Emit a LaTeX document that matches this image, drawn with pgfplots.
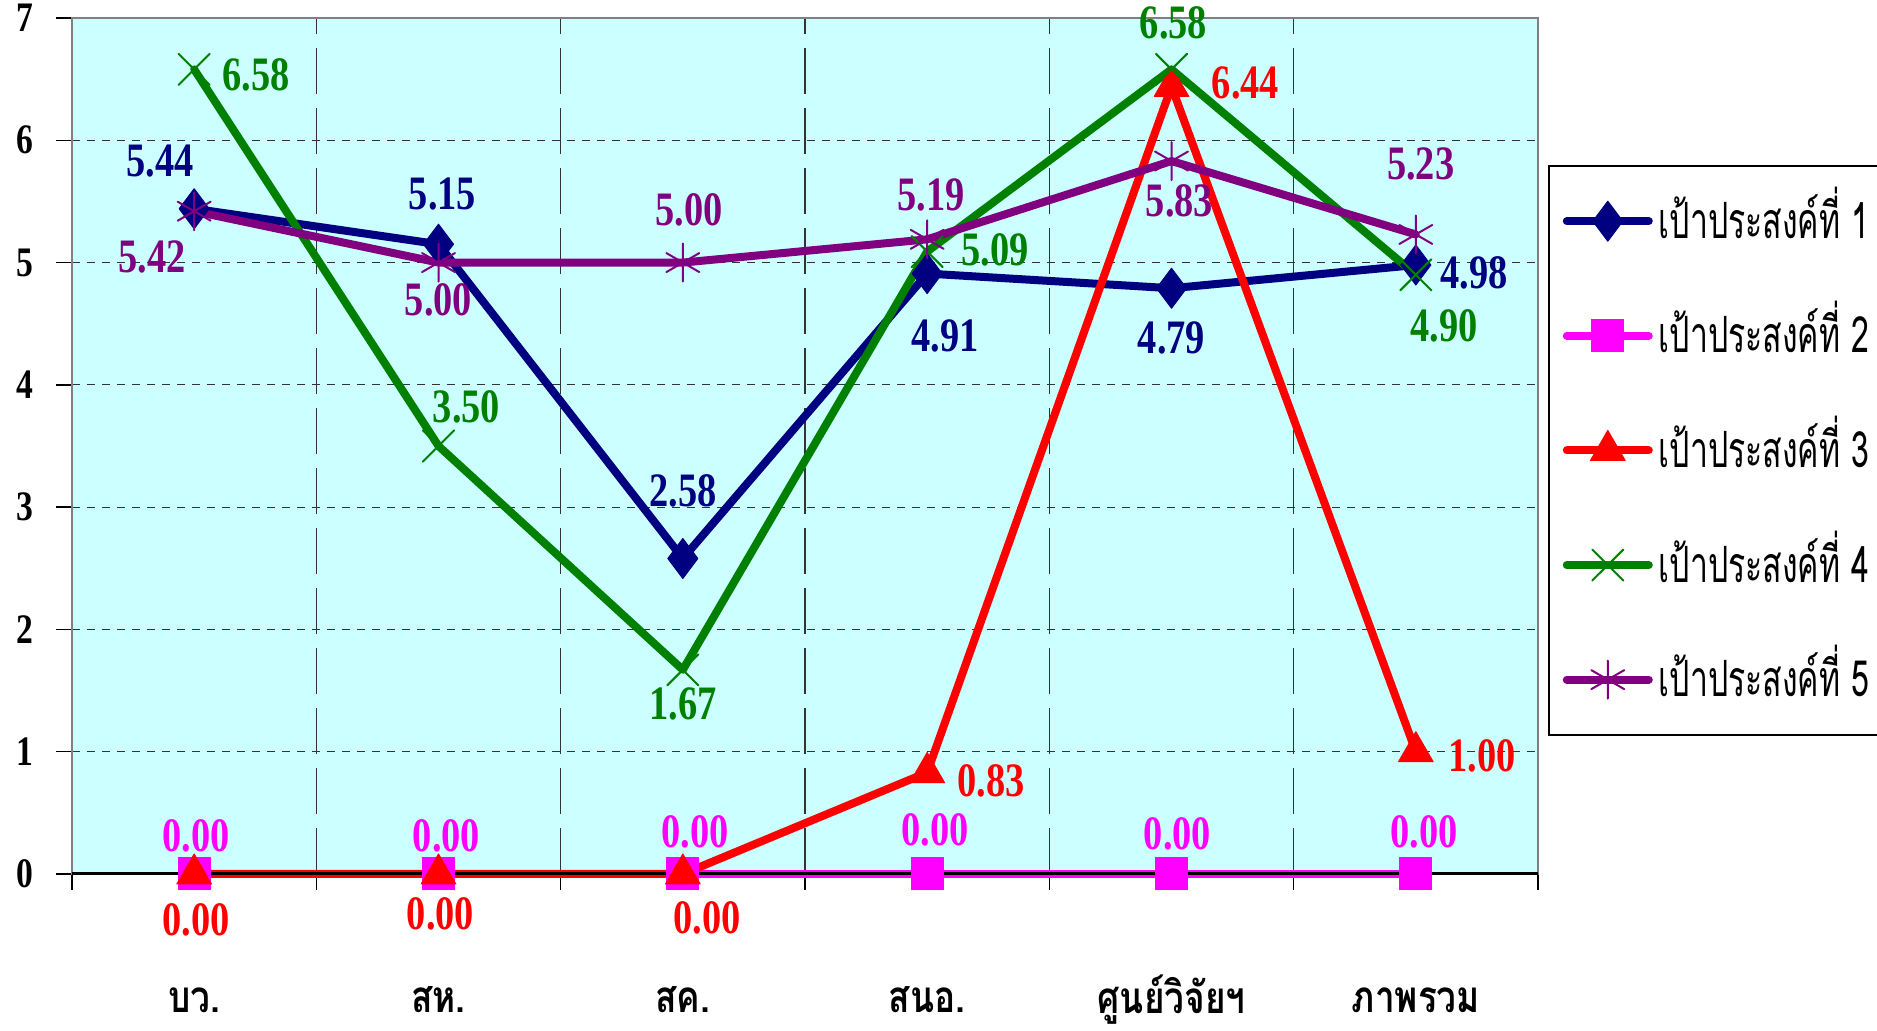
\documentclass[border=0pt]{standalone}
\usepackage{fontspec}
\usepackage{pgfplots}
\pgfplotsset{compat=1.18}
\newfontfamily\thaifont[Script=Thai,FakeStretch=0.8]{Loma}
\newfontfamily\legfont[Script=Thai,FakeStretch=0.64]{Loma}
\newfontfamily\numfont[FakeStretch=0.8]{Liberation Serif}
\definecolor{bgc}{HTML}{CCFFFF}
\definecolor{c1}{HTML}{000080}
\definecolor{c2}{HTML}{FF00FF}
\definecolor{c3}{HTML}{FF0000}
\definecolor{c4}{HTML}{008000}
\definecolor{c5}{HTML}{800080}
\newcommand{\lblfont}{\numfont\bfseries\fontsize{24}{24}\selectfont}
\newcommand{\catfont}{\thaifont\bfseries\fontsize{22}{22}\selectfont}
\newcommand{\lbl}[6]{\node[text=#1, font=\lblfont, inner sep=0pt, anchor=center] at ([shift={(#4pt,#5pt)}]axis cs:#2,#3) {#6};}
\newcommand{\cat}[2]{\node[font=\catfont, anchor=center, inner sep=0pt] at ([yshift=-63pt]axis cs:#1,0) {#2};}
\newcommand{\leg}[1]{\makebox[104pt][l]{#1}}
\begin{document}
\begin{tikzpicture}
\useasboundingbox (-36pt,-78.5pt) rectangle (902.5pt,437pt);
\begin{axis}[
  at={(0,0)}, anchor=south west,
  scale only axis, width=733pt, height=428pt,
  xmin=-0.5, xmax=5.5, ymin=0, ymax=7,
  clip=false,
  axis background/.style={fill=bgc},
  axis line style={draw=gray, line width=1.2pt},
  xtick={-0.5,0.5,1.5,2.5,3.5,4.5,5.5},
  xticklabels={,,,,,,},
  ytick={0,1,2,3,4,5,6,7},
  tick pos=left,
  /pgf/number format/assume math mode=true,
  yticklabel style={font=\numfont\bfseries\fontsize{21}{21}\selectfont, xshift=-8pt},
  tick align=outside, major tick length=8pt,
  tick style={black, line width=0.7pt},
  xmajorgrids, ymajorgrids,
  major x grid style={black!80, line width=0.6pt, dash pattern=on 23pt off 7pt},
  major y grid style={black!80, line width=0.6pt, dash pattern=on 4pt off 3.5pt},
  legend style={at={(1.0068,0.828)}, anchor=north west, draw=black, line width=0.8pt, fill=white,
    font=\legfont\fontsize{25}{25}\selectfont, row sep=22.3pt, column sep=3pt,
    inner xsep=7pt, inner ysep=10.1pt,
    nodes={inner sep=0pt, text height=26pt, text depth=9pt}},
  legend cell align=left,
  legend image code/.code={\draw[mark repeat=2,mark phase=2,#1] plot coordinates {(0pt,0pt) (20.5pt,0pt) (41pt,0pt)};},
  every axis plot/.append style={line width=4pt, line join=round, line cap=round},
]
\addplot[c1, mark=diamond*, mark size=10pt, mark options={fill=c1, line width=0.5pt}] coordinates {(0,5.44) (1,5.15) (2,2.58) (3,4.91) (4,4.79) (5,4.98)};
\addlegendentry{\leg{เป้าประสงค์ที่ 1}}
\addplot[c2, mark=square*, mark size=8pt, mark options={fill=c2, line width=0.5pt}] coordinates {(0,0) (1,0) (2,0) (3,0) (4,0) (5,0)};
\addlegendentry{\leg{เป้าประสงค์ที่ 2}}
\addplot[c3, mark=triangle*, mark size=10pt, mark options={fill=c3, line width=0.5pt}] coordinates {(0,0) (1,0) (2,0) (3,0.83) (4,6.44) (5,1.00)};
\addlegendentry{\leg{เป้าประสงค์ที่ 3}}
\addplot[c4, mark=x, mark size=11pt, mark options={line width=1pt}] coordinates {(0,6.58) (1,3.50) (2,1.67) (3,5.09) (4,6.58) (5,4.90)};
\addlegendentry{\leg{เป้าประสงค์ที่ 4}}
\addplot[c5, mark=asterisk, mark size=9.5pt, mark options={line width=1pt}] coordinates {(0,5.42) (1,5.00) (2,5.00) (3,5.19) (4,5.83) (5,5.23)};
\addlegendentry{\leg{เป้าประสงค์ที่ 5}}
\draw[black, line width=1.5pt] (axis cs:-0.5,0) -- (axis cs:5.5,0);
% labels series 1
\lbl{c1}{0}{5.44}{-17}{24}{5.44}
\lbl{c1}{1}{5.15}{2}{25}{5.15}
\lbl{c1}{2}{2.58}{0}{34}{2.58}
\lbl{c1}{3}{4.91}{9}{-31}{4.91}
\lbl{c1}{4}{4.79}{0}{-25}{4.79}
\lbl{c1}{5}{4.98}{29}{-4}{4.98}
% series 2
\lbl{c2}{0}{0}{1}{19}{0.00}
\lbl{c2}{1}{0}{4}{19}{0.00}
\lbl{c2}{2}{0}{6}{21}{0.00}
\lbl{c2}{3}{0}{4}{22}{0.00}
\lbl{c2}{4}{0}{3}{20}{0.00}
\lbl{c2}{5}{0}{4}{21}{0.00}
% series 3
\lbl{c3}{0}{0}{1}{-23}{0.00}
\lbl{c3}{1}{0}{1}{-20}{0.00}
\lbl{c3}{2}{0}{12}{-22}{0.00}
\lbl{c3}{3}{0.83}{32}{-4}{0.83}
\lbl{c3}{4}{6.44}{37}{2}{6.44}
\lbl{c3}{5}{1.00}{33}{-2}{1.00}
% series 4
\lbl{c4}{0}{6.58}{31}{-3}{6.58}
\lbl{c4}{1}{3.50}{14}{19.5}{3.50}
\lbl{c4}{2}{1.67}{0}{-17}{1.67}
\lbl{c4}{3}{5.09}{34}{1}{5.09}
\lbl{c4}{4}{6.58}{1}{23}{6.58}
\lbl{c4}{5}{4.90}{14}{-25.5}{4.90}
% series 5
\lbl{c5}{0}{5.42}{-21}{-23}{5.42}
\lbl{c5}{1}{5.00}{0}{-18.5}{5.00}
\lbl{c5}{2}{5.00}{3}{26.5}{5.00}
\lbl{c5}{3}{5.19}{2}{22}{5.19}
\lbl{c5}{4}{5.83}{4}{-20}{5.83}
\lbl{c5}{5}{5.23}{2.4}{35}{5.23}
% categories
\cat{0}{บว.}
\cat{1}{สห.}
\cat{2}{สค.}
\cat{3}{สนอ.}
\cat{4}{ศูนย์วิจัยฯ}
\cat{5}{ภาพรวม}
\end{axis}
\end{tikzpicture}
\end{document}
